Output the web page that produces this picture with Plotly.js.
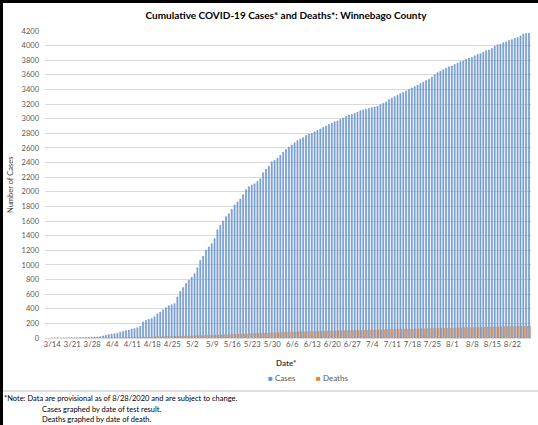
<!DOCTYPE html>
<html>
<head>
<meta charset="utf-8">
<script src="https://cdn.plot.ly/plotly-3.0.1.min.js"></script>
<style>
  html, body { margin: 0; padding: 0; background: #fff; }
  #wrap { position: relative; width: 538px; height: 425px; overflow: hidden; }
  #chart { position: absolute; left: 0; top: 0; width: 538px; height: 425px; }
  .bl { position: absolute; left: 0; top: 0; width: 3px; height: 425px; background: #000; }
  .bt { position: absolute; left: 0; top: 0; width: 538px; height: 3px; background: #000; }
</style>
</head>
<body>
<div id="wrap">
  <div id="chart"></div>
  <div class="bl"></div>
  <div class="bt"></div>
</div>
<script>
// ---- data ----
const startMonth = 3, startDay = 14, nDays = 168; // 3/14 .. 8/28
const tickLabels = ['3/14','3/21','3/28','4/4','4/11','4/18','4/25','5/2','5/9','5/16','5/23','5/30',
  '6/6','6/13','6/20','6/27','7/4','7/11','7/18','7/25','8/1','8/8','8/15','8/22'];
const seriesNames = ['Cases', 'Deaths'];

const cases = [
  0,0,0,0,1,1,2,
  2,3,3,4,5,6,8,
  10,12,15,20,28,38,45,
  52,58,66,80,90,100,110,
  118,128,140,160,220,240,255,
  265,290,330,355,385,415,440,
  455,470,560,640,690,745,790,
  830,880,960,1060,1120,1200,1245,
  1290,1360,1480,1540,1600,1660,1700,
  1760,1820,1860,1900,1960,2030,2070,
  2090,2110,2140,2180,2260,2310,2350,
  2410,2430,2460,2500,2540,2580,2610,
  2640,2670,2700,2720,2740,2770,2790,
  2800,2820,2840,2860,2880,2900,2920,
  2940,2960,2970,2990,3010,3030,3050,
  3060,3070,3090,3110,3120,3130,3140,
  3150,3160,3170,3190,3210,3230,3260,
  3280,3300,3320,3340,3360,3380,3400,
  3420,3440,3460,3480,3500,3520,3540,
  3570,3600,3630,3650,3670,3690,3710,
  3720,3740,3760,3780,3790,3810,3830,
  3840,3860,3880,3890,3910,3930,3940,
  3960,3990,4010,4020,4040,4050,4070,
  4080,4100,4110,4130,4160,4165,4170
];

const deaths = [
  0,0,0,0,0,0,0,
  0,0,0,0,0,0,0,
  1,1,1,1,2,2,3,
  3,4,5,5,6,7,8,
  8,9,10,11,12,13,14,
  15,16,17,18,19,20,21,
  22,23,24,25,26,27,28,
  29,30,31,33,34,36,37,
  39,40,42,43,45,46,48,
  50,51,53,54,56,58,59,
  61,62,64,65,67,68,70,
  71,73,74,76,77,78,80,
  81,82,84,85,86,87,88,
  90,91,92,93,94,95,96,
  97,98,99,100,101,102,103,
  104,105,106,106,107,108,109,
  110,111,112,113,114,115,116,
  117,118,119,120,121,122,123,
  124,125,126,127,128,129,130,
  131,132,133,134,135,136,137,
  138,139,140,141,142,143,144,
  145,146,147,148,149,150,151,
  151,152,153,154,155,156,157,
  158,159,160,161,162,163,164
];

// category labels: one per day
const dates = [];
{
  const d0 = new Date(2020, startMonth - 1, startDay);
  for (let i = 0; i < nDays; i++) {
    const d = new Date(d0.getTime());
    d.setDate(d0.getDate() + i);
    dates.push((d.getMonth() + 1) + '/' + d.getDate());
  }
}

// ---- layout geometry ----
const W = 538, H = 425;
const M = { l: 45, r: 7, t: 31, b: 87 };
const pw = W - M.l - M.r, ph = H - M.t - M.b;
const px = x => (x - M.l) / pw;
const py = y => (H - M.b - y) / ph;

const FONT = 'Lato, "Open Sans", sans-serif';
const GREY = '#595959';
const CASE_LEG = '#5b9bd5', DEATH_LEG = '#ed7d31';

const traces = [
  { type: 'bar', x: dates, y: cases, name: seriesNames[0], showlegend: false,
    marker: { color: '#8fb1db', line: { color: '#4f7fbd', width: 0.5 } }, hoverinfo: 'x+y' },
  { type: 'bar', x: dates, y: deaths, name: seriesNames[1], showlegend: false,
    marker: { color: '#dd9a6c', line: { color: '#d0834f', width: 0.3 } }, hoverinfo: 'x+y' }
];

const layout = {
  width: W, height: H,
  margin: { l: M.l, r: M.r, t: M.t, b: M.b, pad: 0 },
  paper_bgcolor: '#fff', plot_bgcolor: '#fff',
  font: { family: FONT, color: GREY, size: 8 },
  showlegend: false,
  title: { text: '<b>Cumulative COVID-19 Cases* and Deaths*: Winnebago County</b>',
    font: { family: FONT, size: 10, color: '#000' },
    x: px(286), xref: 'paper', xanchor: 'center', y: 1 - 15 / H, yanchor: 'middle' },
  barmode: 'group', bargap: 0.25, bargroupgap: 0,
  xaxis: {
    type: 'category', range: [-2.5, nDays - 0.5],
    tickmode: 'array', tickvals: tickLabels, ticktext: tickLabels,
    ticks: '', showgrid: false, showline: false, zeroline: false,
    tickfont: { family: FONT, size: 7.8, color: GREY }, tickangle: 0,
    fixedrange: true
  },
  yaxis: {
    range: [0, 4200], dtick: 200, tick0: 0,
    showgrid: true, gridcolor: '#d9d9d9', gridwidth: 1,
    zeroline: true, zerolinecolor: '#d9d9d9', zerolinewidth: 1,
    showline: false, ticks: '',
    tickfont: { family: FONT, size: 7.5, color: GREY },
    ticklabelstandoff: 5, fixedrange: true
  },
  annotations: [
    { text: 'Number of Cases', xref: 'paper', yref: 'paper', x: px(10), y: py(185),
      textangle: -90, showarrow: false, font: { family: FONT, size: 7.5, color: '#404040' },
      xanchor: 'center', yanchor: 'middle' },
    { text: '<b>Date*</b>', xref: 'paper', yref: 'paper', x: px(286), y: py(363),
      showarrow: false, font: { family: FONT, size: 8, color: '#404040' },
      xanchor: 'center', yanchor: 'middle' },
    { text: '<span style="color:' + CASE_LEG + '">■</span> ' + seriesNames[0],
      xref: 'paper', yref: 'paper', x: px(266), y: py(378), showarrow: false,
      font: { family: FONT, size: 8, color: GREY }, xanchor: 'left', yanchor: 'middle' },
    { text: '<span style="color:' + DEATH_LEG + '">■</span> ' + seriesNames[1],
      xref: 'paper', yref: 'paper', x: px(314), y: py(378), showarrow: false,
      font: { family: FONT, size: 8, color: GREY }, xanchor: 'left', yanchor: 'middle' },
    { text: '*Note: Data are provisional as of 8/28/2020 and are subject to change.',
      xref: 'paper', yref: 'paper', x: px(2), y: py(398), showarrow: false,
      font: { family: FONT, size: 7.5, color: '#000' }, xanchor: 'left', yanchor: 'middle' },
    { text: 'Cases graphed by date of test result.',
      xref: 'paper', yref: 'paper', x: px(40), y: py(409), showarrow: false,
      font: { family: FONT, size: 7.5, color: '#000' }, xanchor: 'left', yanchor: 'middle' },
    { text: 'Deaths graphed by date of death.',
      xref: 'paper', yref: 'paper', x: px(40), y: py(419), showarrow: false,
      font: { family: FONT, size: 7.5, color: '#000' }, xanchor: 'left', yanchor: 'middle' }
  ],
  shapes: [
    { type: 'line', xref: 'paper', yref: 'paper', x0: px(3), x1: px(538), y0: py(391), y1: py(391),
      line: { color: '#bfbfbf', width: 1 } }
  ]
};

Plotly.newPlot('chart', traces, layout, { displayModeBar: false, staticPlot: true });
</script>
</body>
</html>
